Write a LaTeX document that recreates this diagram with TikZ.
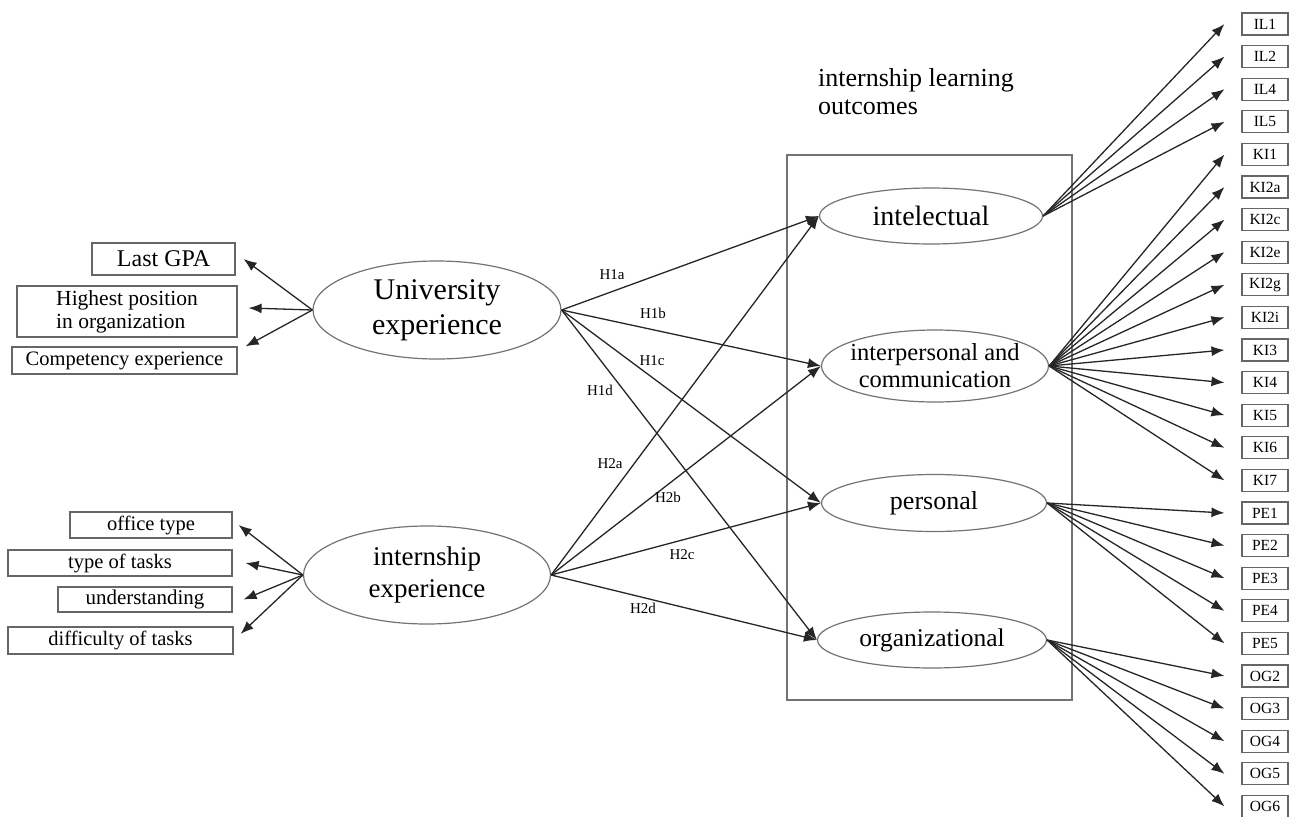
\documentclass[tikz,border=0pt]{standalone}
\usepackage{fontspec}
\setmainfont{Liberation Serif}
\usetikzlibrary{arrows.meta,shapes.geometric}
\newcommand\myfs[2]{\fontsize{#1}{#2}\selectfont}
\begin{document}
\begin{tikzpicture}[x=1pt,y=-1pt,
  arr/.style={draw=black!85, line width=1.3pt, -{Latex[length=13pt,width=10pt]}},
  lat/.style={ellipse, draw=black!55, line width=1.2pt, inner sep=0pt},
  ltx/.style={inner sep=0pt, align=center},
  ind/.style={draw=black!60, line width=1.1pt, inner sep=0pt, minimum width=46pt, minimum height=22pt, font=\myfs{15.5}{15.5}},
  lbox/.style={draw=black!60, line width=1.2pt, inner sep=0pt, align=left},
  hyp/.style={inner sep=0pt, font=\myfs{15}{15}}
]
\useasboundingbox (0,0) rectangle (1292,816);
\fill[white] (0,0) rectangle (1292,816);

% frame and title
\node[draw=black!55, line width=1.2pt, minimum width=285pt, minimum height=545pt, inner sep=0pt] (frame) at (929.5,427.5) {};
\node[anchor=north west, inner sep=0pt, align=left, font=\myfs{26}{28}] (title) at (818,68) {internship learning\\outcomes};

% latent variables
\node[lat, minimum width=248pt, minimum height=98pt] (uni) at (437,310) {};
\node[ltx, font=\myfs{30}{35}] (unit) at (uni.center) {University\\experience};
\node[lat, minimum width=247pt, minimum height=98pt] (intern) at (427,575) {};
\node[ltx, font=\myfs{27}{32}] (internt) at (intern.center) {internship\\experience};
\node[lat, minimum width=223pt, minimum height=56pt] (intel) at (931,216) {};
\node[ltx, font=\myfs{28}{30}] (intelt) at (intel.center) {intelectual};
\node[lat, minimum width=227pt, minimum height=72pt] (interp) at (935,366) {};
\node[ltx, font=\myfs{24.5}{27}] (interpt) at (interp.center) {interpersonal and\\communication};
\node[lat, minimum width=225pt, minimum height=57pt] (pers) at (934,503) {};
\node[ltx, font=\myfs{26}{28}] (perst) at (pers.center) {personal};
\node[lat, minimum width=229pt, minimum height=56pt] (org) at (932,640) {};
\node[ltx, font=\myfs{25.5}{28}] (orgt) at (org.center) {organizational};

% left indicators (university)
\node[lbox, minimum width=143pt, minimum height=32pt, font=\myfs{24}{26}] (gpa) at (163.5,259) {Last GPA};
\node[lbox, minimum width=220pt, minimum height=51pt, font=\myfs{21.5}{23}] (hp) at (127,311.5) {Highest position\\in organization};
\node[lbox, minimum width=225pt, minimum height=27pt, font=\myfs{20.5}{22}] (comp) at (124.5,360.5) {Competency experience};

% left indicators (internship)
\node[lbox, minimum width=162pt, minimum height=26pt, font=\myfs{20.5}{22}] (office) at (151,525) {office type};
\node[lbox, minimum width=224pt, minimum height=26pt, font=\myfs{20.5}{22}] (tasks) at (120,563) {type of tasks};
\node[lbox, minimum width=174pt, minimum height=25pt, font=\myfs{21}{22}] (und) at (145,599.5) {understanding};
\node[lbox, minimum width=225pt, minimum height=27pt, font=\myfs{20.5}{22}] (diff) at (120.5,640.5) {difficulty of tasks};

\draw[arr] (uni.west) -- ([xshift=8pt]gpa.east);
\draw[arr] (uni.west) -- ([xshift=11pt,yshift=3.5pt]hp.east);
\draw[arr] (uni.west) -- ([xshift=8pt]comp.north east);

\draw[arr] (intern.west) -- ([xshift=6pt]office.east);
\draw[arr] (intern.west) -- ([xshift=13pt]tasks.east);
\draw[arr] (intern.west) -- ([xshift=11pt]und.east);
\draw[arr] (intern.west) -- ([xshift=7pt,yshift=-7.5pt]diff.north east);

% hypotheses
\draw[arr] (uni.east) -- (intel.west);
\draw[arr] (uni.east) -- (interp.west);
\draw[arr] (uni.east) -- (pers.west);
\draw[arr] (uni.east) -- (org.west);
\draw[arr] (intern.east) -- (intel.west);
\draw[arr] (intern.east) -- (interp.west);
\draw[arr] (intern.east) -- (pers.west);
\draw[arr] (intern.east) -- (org.west);

\node[hyp] (h1a) at (612,275) {H1a};
\node[hyp] (h1b) at (653,313) {H1b};
\node[hyp] (h1c) at (652,361) {H1c};
\node[hyp] (h1d) at (600,390) {H1d};
\node[hyp] (h2a) at (610,464) {H2a};
\node[hyp] (h2b) at (668,497) {H2b};
\node[hyp] (h2c) at (682,555) {H2c};
\node[hyp] (h2d) at (643,608) {H2d};

% right indicators
\foreach \t/\i/\src in {IL1/0/intel, IL2/1/intel, IL4/2/intel, IL5/3/intel,
  KI1/4/interp, KI2a/5/interp, KI2c/6/interp, KI2e/7/interp, KI2g/8/interp, KI2i/9/interp,
  KI3/10/interp, KI4/11/interp, KI5/12/interp, KI6/13/interp, KI7/14/interp,
  PE1/15/pers, PE2/16/pers, PE3/17/pers, PE4/18/pers, PE5/19/pers,
  OG2/20/org, OG3/21/org, OG4/22/org, OG5/23/org, OG6/24/org}{
  \node[ind] (\t) at (1265,{24+32.6*\i}) {\t};
  \draw[arr] (\src.east) -- ([xshift=-17pt]\t.west);
}
\end{tikzpicture}
\end{document}
